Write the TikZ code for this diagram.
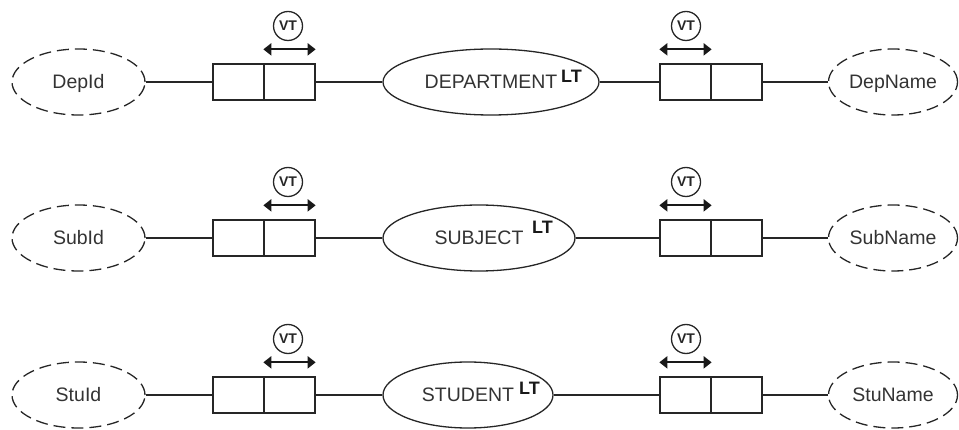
\documentclass[tikz,border=0pt]{standalone}
\usepackage{fontspec}
\setmainfont{Liberation Sans}
\usetikzlibrary{shapes.geometric,arrows.meta}

\begin{document}
\begin{tikzpicture}[x=1pt,y=-1pt,
  ink/.style={draw=black!85, line width=1.3pt},
  label font/.style={font=\fontsize{19.5}{21}\selectfont, text=black!80,
    text height=13.9pt, text depth=0pt},
  attr/.style={ellipse, ink, label font, dash pattern=on 12pt off 6pt,
    minimum height=66pt, inner sep=0pt},
  entity/.style={ellipse, ink, label font, minimum height=66pt, inner sep=0pt},
  cell/.style={rectangle, ink, minimum width=51pt, minimum height=36pt, inner sep=0pt},
  link/.style={ink},
  vtmark/.style={circle, ink, minimum size=29pt, inner sep=0pt,
    font=\bfseries\fontsize{14}{14}\selectfont, text=black!85},
  vtarrow/.style={draw=black!90, line width=2pt,
    {Triangle[length=8pt,width=12pt]}-{Triangle[length=8pt,width=12pt]}},
  ltmark/.style={font=\bfseries\fontsize{18}{18}\selectfont, text=black!90,
    inner sep=0pt, anchor=base west}
]
\useasboundingbox (0,0) rectangle (959,430);

% one row per entity: key attribute, entity, name attribute
\foreach \r/\y/\key/\ent/\ex/\ew/\ltx/\lty/\nm in {%
    1/82/DepId/DEPARTMENT/491/216/561/83/DepName,
    2/238/SubId/SUBJECT/479/192/532/234/SubName,
    3/395/StuId/STUDENT/468/170/519/395/StuName}{
  % attributes
  \node[attr, minimum width=133pt] (key\r) at (78.5,\y) {\key};
  \node[attr, minimum width=129pt] (nm\r) at (893,\y) {\nm};
  % entity with its LT marker
  \node[entity, minimum width=\ew pt] (ent\r) at (\ex,\y) {\ent};
  \node[ltmark] (lt\r) at (\ltx,\lty) {LT};
  % two-cell boxes
  \node[cell] (la\r) at (238.5,\y) {};
  \node[cell] (lb\r) at (289.5,\y) {};
  \node[cell] (ra\r) at (685.5,\y) {};
  \node[cell] (rb\r) at (736.5,\y) {};
  % VT markers with their double arrows
  \node[vtmark] (vl\r) at (288,\y-56) {VT};
  \node[vtmark] (vr\r) at (686,\y-56) {VT};
  \coordinate (al\r) at ([yshift=14pt]lb\r.north west);
  \coordinate (bl\r) at ([yshift=14pt]lb\r.north east);
  \coordinate (ar\r) at ([yshift=14pt]ra\r.north west);
  \coordinate (br\r) at ([yshift=14pt]ra\r.north east);
  \draw[vtarrow] (al\r) -- (bl\r);
  \draw[vtarrow] (ar\r) -- (br\r);
  % connectors
  \draw[link] (key\r.east) -- (la\r.west);
  \draw[link] (lb\r.east) -- (ent\r.west);
  \draw[link] (ent\r.east) -- (ra\r.west);
  \draw[link] (rb\r.east) -- (nm\r.west);
}
\end{tikzpicture}
\end{document}
